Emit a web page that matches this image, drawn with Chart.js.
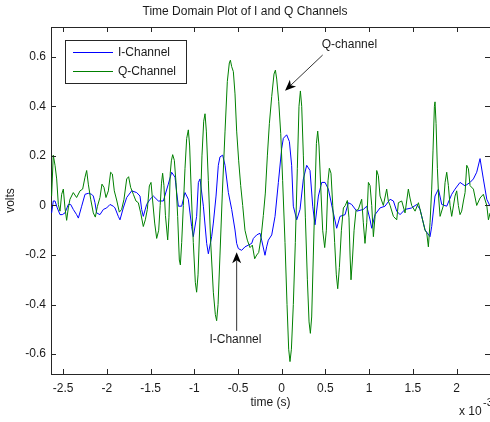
<!DOCTYPE html>
<html><head><meta charset="utf-8">
<script src="https://cdn.jsdelivr.net/npm/chart.js@4.4.1/dist/chart.umd.min.js"></script>
<style>html,body{margin:0;padding:0;background:#fff;}canvas{display:block;}</style>
</head><body>
<canvas id="c" width="490" height="422"></canvas>
<script>
// ---- data (time in units of 1e-3 s, values in volts) ----
const tI = [
-2.632,-2.613,-2.593,-2.567,-2.536,-2.510,-2.479,-2.441,-2.414,-2.384,
-2.346,-2.326,-2.288,-2.250,-2.212,-2.174,-2.155,-2.136,-2.117,-2.079,
-2.040,-2.002,-1.964,-1.926,-1.907,-1.869,-1.850,-1.812,-1.773,-1.716,
-1.659,-1.621,-1.602,-1.583,-1.545,-1.506,-1.468,-1.411,-1.354,-1.297,
-1.259,-1.220,-1.201,-1.182,-1.144,-1.106,-1.068,-1.030,-1.011,-0.973,
-0.953,-0.934,-0.896,-0.858,-0.839,-0.801,-0.782,-0.751,-0.725,-0.706,
-0.675,-0.648,-0.610,-0.572,-0.534,-0.515,-0.496,-0.458,-0.420,-0.381,
-0.343,-0.324,-0.286,-0.248,-0.229,-0.191,-0.172,-0.153,-0.114,-0.076,
-0.038,0.000,0.019,0.057,0.088,0.114,0.133,0.172,0.210,0.248,
0.286,0.324,0.355,0.381,0.420,0.458,0.496,0.534,0.591,0.629,
0.667,0.725,0.763,0.801,0.858,0.934,0.973,1.011,1.030,1.068,
1.125,1.182,1.240,1.278,1.316,1.354,1.411,1.487,1.545,1.583,
1.640,1.697,1.716,1.754,1.793,1.831,1.888,1.945,1.983,2.040,
2.098,2.155,2.193,2.231,2.269,2.307,2.346,2.384];
const vI = [
-0.030,0.018,0.018,-0.010,-0.037,-0.037,-0.030,0.004,0.004,-0.016,
-0.037,-0.051,-0.003,0.045,0.049,0.045,0.038,0.011,-0.030,-0.037,
-0.016,-0.010,0.004,-0.003,-0.010,-0.044,-0.058,-0.010,0.032,0.059,
0.052,0.038,-0.016,-0.044,0.004,0.025,0.038,0.018,0.018,0.086,
0.134,0.114,0.052,-0.003,-0.003,0.052,0.025,-0.085,-0.126,-0.044,
0.093,0.107,-0.003,-0.153,-0.195,-0.126,-0.071,0.038,0.162,0.196,
0.203,0.162,0.052,-0.016,-0.099,-0.153,-0.174,-0.181,-0.167,-0.160,
-0.153,-0.133,-0.119,-0.112,-0.140,-0.201,-0.167,-0.140,-0.119,-0.044,
0.093,0.230,0.271,0.285,0.258,0.162,-0.003,-0.058,-0.016,0.107,
0.162,0.141,-0.003,-0.078,0.038,0.093,0.093,0.066,-0.030,-0.092,
-0.044,-0.037,0.011,0.004,-0.023,-0.016,-0.003,-0.058,-0.092,-0.037,
-0.010,-0.003,0.025,0.018,-0.023,-0.037,-0.016,-0.010,0.004,-0.016,
-0.099,-0.126,-0.085,0.038,0.066,0.004,-0.003,0.045,0.066,0.093,
0.079,0.093,0.107,0.134,0.189,0.107,0.025,-0.003];

const tQ = [
-2.632,-2.613,-2.593,-2.574,-2.555,-2.536,-2.517,-2.498,-2.479,-2.460,
-2.441,-2.422,-2.384,-2.346,-2.307,-2.277,-2.250,-2.231,-2.212,-2.185,
-2.155,-2.132,-2.109,-2.079,-2.056,-2.033,-2.010,-1.983,-1.957,-1.937,
-1.915,-1.888,-1.857,-1.831,-1.804,-1.773,-1.751,-1.728,-1.697,-1.667,
-1.640,-1.613,-1.583,-1.560,-1.537,-1.514,-1.495,-1.476,-1.453,-1.430,
-1.407,-1.390,-1.375,-1.362,-1.347,-1.330,-1.304,-1.290,-1.275,-1.262,
-1.247,-1.228,-1.209,-1.190,
-1.171,-1.159,-1.144,-1.125,-1.106,-1.087,-1.068,-1.053,-1.034,-1.011,
-0.988,-0.973,-0.957,-0.934,-0.912,-0.892,-0.877,-0.862,-0.839,-0.812,
-0.782,-0.759,-0.744,-0.728,-0.706,-0.679,-0.648,-0.622,-0.599,-0.587,
-0.572,-0.553,-0.534,-0.515,-0.492,-0.469,-0.446,-0.420,-0.393,-0.362,
-0.336,-0.309,-0.286,-0.263,-0.236,-0.210,-0.187,-0.164,-0.141,-0.114,
-0.088,-0.072,-0.057,-0.034,-0.011,0.011,0.038,0.061,0.080,0.095,
0.111,0.133,0.156,0.179,0.198,0.214,0.229,0.248,0.271,0.294,
0.313,0.328,0.343,0.362,0.381,0.397,0.412,0.427,0.446,0.469,
0.492,0.511,0.530,0.545,0.564,0.584,0.606,0.625,0.641,0.660,
0.683,0.706,0.728,0.751,0.770,0.782,0.793,0.809,0.828,0.850,
0.877,0.915,0.934,0.953,0.973,0.992,1.011,1.030,1.049,1.068,
1.087,1.106,1.125,1.163,1.201,1.220,1.240,1.278,1.316,1.335,
1.373,1.411,1.449,1.468,1.487,1.526,1.564,1.602,1.640,1.659,
1.678,1.697,1.716,1.731,1.747,1.754,1.766,1.781,1.796,1.812,
1.850,1.869,1.888,1.907,1.926,1.945,1.983,2.002,2.021,2.040,
2.059,2.079,2.098,2.117,2.136,2.155,2.193,2.231,2.269,2.307,
2.346,2.365,2.384];
const vQ = [
0.038,0.203,0.162,0.107,0.004,-0.023,0.045,0.066,-0.010,-0.060,
-0.010,0.025,0.052,0.032,0.059,0.066,0.114,0.141,0.086,0.025,
-0.030,-0.047,-0.005,0.032,0.086,0.073,0.032,0.059,0.134,0.127,
0.059,0.022,-0.027,-0.016,0.025,0.107,0.116,0.073,0.045,0.018,
0.011,-0.030,-0.085,-0.058,-0.016,0.079,0.093,0.018,-0.071,-0.133,
-0.100,0.000,0.090,0.130,0.080,-0.040,-0.139,-0.050,0.130,0.180,
0.205,0.182,0.093,-0.044,
-0.22,-0.24,-0.15,0.0,0.15,0.27,0.305,0.24,0.05,-0.15,
-0.31,-0.35,-0.28,-0.05,0.2,0.34,0.37,0.3,0.1,-0.15,
-0.35,-0.44,-0.465,-0.4,-0.2,0.05,0.3,0.5,0.575,0.586,
0.56,0.54,0.45,0.3,0.18,0.08,0.0,-0.1,-0.14,-0.17,
-0.16,-0.215,-0.2,-0.19,-0.13,-0.04,0.05,0.2,0.33,0.44,
0.53,0.546,0.51,0.42,0.29,0.1,-0.15,-0.4,-0.58,-0.63,
-0.58,-0.4,-0.15,0.15,0.4,0.462,0.4,0.2,-0.05,-0.3,
-0.47,-0.516,-0.45,-0.2,0.05,0.25,0.30,0.24,0.08,-0.1,
-0.17,-0.1,0.1,0.15,0.13,0.0,-0.15,-0.28,-0.336,-0.25,
-0.1,-0.01,0.0,0.02,-0.05,-0.2,-0.30,-0.22,-0.1,-0.02,
-0.016,0.025,-0.07,-0.153,-0.07,0.093,0.08,0.0,-0.126,-0.044,
0.141,0.12,0.038,0.0,0.066,0.018,0.0,-0.044,-0.058,0.011,
0.018,-0.03,0.066,0.03,0.0,-0.023,0.011,-0.044,-0.1,-0.11,
-0.167,-0.07,0.066,0.22,0.40,0.418,0.33,0.15,0.03,-0.044,
0.0,0.093,0.134,0.08,0.0,-0.044,0.038,0.059,0.0,-0.037,
-0.023,0.018,0.052,0.162,0.148,0.08,0.066,0.0,0.03,0.045,
0.0,-0.058,-0.03];

const xTicks = [-2.5,-2,-1.5,-1,-0.5,0,0.5,1,1.5,2];
const yTicks = [-0.6,-0.4,-0.2,0,0.2,0.4,0.6];
const seriesNames = ['I-Channel','Q-Channel'];
const titleText = 'Time Domain Plot of I and Q Channels';
const xLabel = 'time (s)';
const yLabel = 'volts';
const xMultiplier = ['x 10', '-3'];
// annotations: text anchor, arrow tail and arrow tip, in data units
const notes = [
  {text:'Q-channel', at:[0.458,0.647], align:'left', tail:[0.469,0.607], tip:[0.038,0.463]},
  {text:'I-Channel', at:[-0.529,-0.540], align:'center', tail:[-0.515,-0.506], tip:[-0.515,-0.189]}
];

// ---- styling ----
const FONT = '"Liberation Sans", Arial, Helvetica, sans-serif';
const TXT = '#1a1a1a';
const AXIS = '#262626';
const TICK = 5;
Chart.defaults.font.family = FONT;
Chart.defaults.font.size = 12;
Chart.defaults.color = TXT;

function arrow(ctx, x0, y0, x1, y1) {
  const ang = Math.atan2(y1 - y0, x1 - x0);
  const L = 11, W = 4.5, N = 8;
  const c = Math.cos(ang), s = Math.sin(ang);
  const bx = x1 - N * c, by = y1 - N * s;
  ctx.beginPath();
  ctx.strokeStyle = '#333';
  ctx.lineWidth = 1;
  ctx.moveTo(x0, y0); ctx.lineTo(bx, by); ctx.stroke();
  ctx.beginPath();
  ctx.fillStyle = '#000';
  ctx.moveTo(x1, y1);
  ctx.lineTo(x1 - L * c - W * s, y1 - L * s + W * c);
  ctx.lineTo(bx, by);
  ctx.lineTo(x1 - L * c + W * s, y1 - L * s - W * c);
  ctx.closePath();
  ctx.fill();
}

const decor = {
  id: 'decor',
  afterDraw(chart) {
    const {ctx, chartArea: a, scales: {x, y}} = chart;
    ctx.save();
    ctx.strokeStyle = AXIS; ctx.lineWidth = 1;
    ctx.beginPath();
    ctx.moveTo(a.left, a.top + 0.5); ctx.lineTo(a.right, a.top + 0.5);
    xTicks.forEach(v => {
      const p = Math.round(x.getPixelForValue(v)) + 0.5;
      ctx.moveTo(p, a.bottom); ctx.lineTo(p, a.bottom - TICK);
      ctx.moveTo(p, a.top); ctx.lineTo(p, a.top + TICK);
    });
    yTicks.forEach(v => {
      const p = Math.round(y.getPixelForValue(v)) + 0.5;
      ctx.moveTo(a.left, p); ctx.lineTo(a.left + TICK, p);
      ctx.moveTo(a.right, p); ctx.lineTo(a.right - TICK, p);
    });
    ctx.stroke();

    ctx.font = '12px ' + FONT;
    ctx.textBaseline = 'middle';
    notes.forEach(n => {
      arrow(ctx, x.getPixelForValue(n.tail[0]), y.getPixelForValue(n.tail[1]),
                 x.getPixelForValue(n.tip[0]), y.getPixelForValue(n.tip[1]));
      ctx.fillStyle = TXT;
      ctx.textAlign = n.align;
      ctx.fillText(n.text, x.getPixelForValue(n.at[0]), y.getPixelForValue(n.at[1]));
    });

    const lx = a.left + 14, ly = a.top + 13, lw = 121, lh = 43;
    ctx.fillStyle = '#fff';
    ctx.fillRect(lx, ly, lw, lh);
    ctx.strokeStyle = AXIS;
    ctx.strokeRect(lx + 0.5, ly + 0.5, lw, lh);
    ctx.textAlign = 'left';
    chart.data.datasets.forEach((ds, i) => {
      const yy = ly + 12 + i * 19;
      ctx.strokeStyle = ds.borderColor;
      ctx.lineWidth = 1;
      ctx.beginPath();
      ctx.moveTo(lx + 8, yy + 0.5); ctx.lineTo(lx + 48, yy + 0.5);
      ctx.stroke();
      ctx.fillStyle = TXT;
      ctx.fillText(ds.label, lx + 53, yy + 0.5);
    });

    ctx.textBaseline = 'alphabetic';
    ctx.fillStyle = TXT;
    ctx.font = '12px ' + FONT;
    ctx.fillText(xMultiplier[0], 459, 415);
    ctx.font = '11px ' + FONT;
    ctx.fillText(xMultiplier[1], 483, 406);
    ctx.restore();
  }
};

new Chart(document.getElementById('c'), {
  type: 'line',
  data: {
    datasets: [
      {label: seriesNames[0], data: tI.map((t, i) => ({x: t, y: vI[i]})),
       borderColor: '#0000ff', borderWidth: 1, pointRadius: 0, tension: 0, fill: false, order: 1},
      {label: seriesNames[1], data: tQ.map((t, i) => ({x: t, y: vQ[i]})),
       borderColor: '#008000', borderWidth: 1, pointRadius: 0, tension: 0, fill: false, order: 0}
    ]
  },
  options: {
    responsive: false,
    animation: false,
    devicePixelRatio: 1,
    layout: {padding: {left: 0, right: 0, top: 0, bottom: 0}},
    plugins: {
      legend: {display: false},
      tooltip: {enabled: false},
      title: {display: true, text: titleText, color: TXT,
              font: {size: 12, weight: 'normal'}, padding: {top: 4, bottom: 8.6}}
    },
    scales: {
      x: {
        type: 'linear', min: -2.639, max: 2.383,
        afterBuildTicks: s => { s.ticks = xTicks.map(v => ({value: v})); },
        afterFit: s => { s.height = 48; },
        ticks: {padding: 7, color: TXT, maxRotation: 0, autoSkip: false,
                callback: v => String(v)},
        grid: {display: false, drawTicks: false},
        border: {display: true, color: AXIS, width: 1},
        title: {display: true, text: xLabel, color: TXT, font: {size: 12},
                padding: {top: 0, bottom: 12}}
      },
      y: {
        type: 'linear', min: -0.68, max: 0.72,
        afterBuildTicks: s => { s.ticks = yTicks.map(v => ({value: v})); },
        afterFit: s => { s.width = 51; },
        ticks: {padding: 5, color: TXT, autoSkip: false, callback: v => String(v)},
        grid: {display: false, drawTicks: false},
        border: {display: true, color: AXIS, width: 1},
        title: {display: true, text: yLabel, color: TXT, font: {size: 12},
                padding: {top: 3, bottom: 0}}
      }
    }
  },
  plugins: [decor]
});
</script>
</body></html>
